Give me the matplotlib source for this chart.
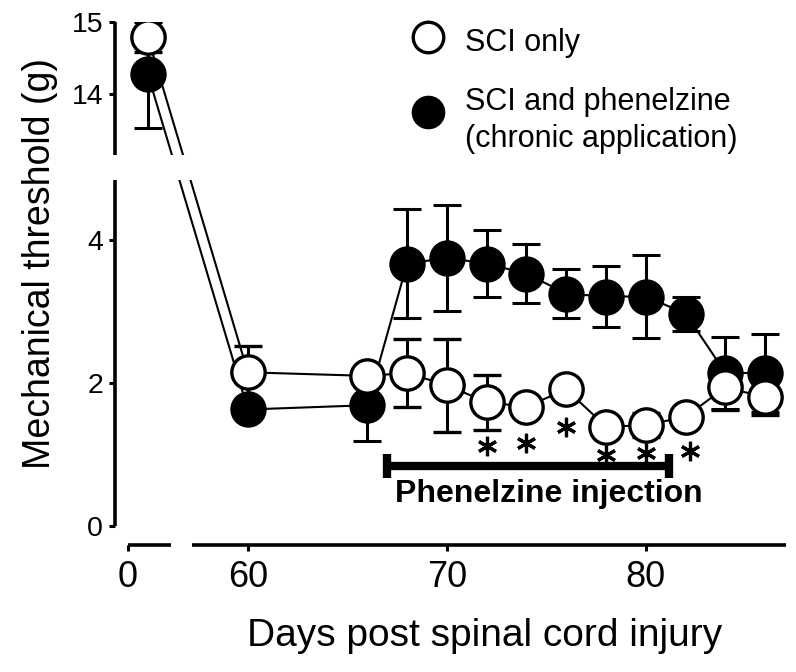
import numpy as np
import matplotlib
matplotlib.use("Agg")
import matplotlib.pyplot as plt

plt.rcParams['font.family'] = ['Liberation Sans', 'DejaVu Sans']

# days post injury
days = [1, 60, 66, 68, 70, 72, 74, 76, 78, 80, 82, 84, 86]

# SCI only (open circles)
sci_mean = [14.79, 2.15, 2.10, 2.14, 1.97, 1.73, 1.67, 1.91, 1.39, 1.41, 1.53, 1.94, 1.80]
sci_err = [0.21, 0.37, 0.10, 0.48, 0.65, 0.38, 0.10, 0.10, 0.10, 0.17, 0.10, 0.32, 0.25]

# SCI and phenelzine (filled circles)
phen_mean = [14.27, 1.63, 1.69, 3.67, 3.75, 3.67, 3.53, 3.25, 3.21, 3.21, 2.97, 2.14, 2.14]
phen_err = [0.75, 0.10, 0.50, 0.76, 0.74, 0.47, 0.41, 0.34, 0.42, 0.58, 0.24, 0.50, 0.55]

# significance marks
star_days = [72, 74, 76, 78, 80, 82.2]
star_y = [1.12, 1.16, 1.38, 0.99, 1.02, 1.05]

# injection period
inj_start, inj_end, inj_y = 67.0, 81.15, 0.84

# axis breaks
XB0, XB1, XGAP = 2.16, 57.19, 1.055
YB0, YB1, YGAP = 4.84, 13.14, 0.349


def fwd_x(d):
    d = np.asarray(d, float)
    return np.where(d <= XB0, d,
                    np.where(d >= XB1, d - XB1 + XB0 + XGAP,
                             XB0 + (d - XB0) * XGAP / (XB1 - XB0)))


def inv_x(u):
    u = np.asarray(u, float)
    return np.where(u <= XB0, u,
                    np.where(u >= XB0 + XGAP, u - XB0 - XGAP + XB1,
                             XB0 + (u - XB0) * (XB1 - XB0) / XGAP))


def fwd_y(v):
    v = np.asarray(v, float)
    return np.where(v <= YB0, v,
                    np.where(v >= YB1, v - YB1 + YB0 + YGAP,
                             YB0 + (v - YB0) * YGAP / (YB1 - YB0)))


def inv_y(w):
    w = np.asarray(w, float)
    return np.where(w <= YB0, w,
                    np.where(w >= YB0 + YGAP, w - YB0 - YGAP + YB1,
                             YB0 + (w - YB0) * (YB1 - YB0) / YGAP))


fig = plt.figure(figsize=(7.96, 6.72), dpi=100)
ax = fig.add_axes([115 / 796, 1 - 545 / 672, 671 / 796, 523 / 672])
ax.set_xscale('function', functions=(fwd_x, inv_x))
ax.set_yscale('function', functions=(fwd_y, inv_y))
ax.set_xlim(-0.65, 87.04)
ax.set_ylim(-0.265, 15)

ax.errorbar(days, phen_mean, yerr=phen_err, fmt='o-', color='k', mfc='k', mec='k',
            ms=24, mew=2.2, lw=1.5, elinewidth=2.2, capsize=10, capthick=2.2, zorder=3)
ax.errorbar(days, sci_mean, yerr=sci_err, fmt='o-', color='k', mfc='white', mec='k',
            ms=24, mew=2.4, lw=1.5, elinewidth=2.2, capsize=10, capthick=2.2, zorder=4)

# white gap where the y axis is broken
ax.axhspan(YB0, YB1, xmin=0.005, xmax=0.3, color='white', zorder=5, lw=0)

ax.plot(star_days, star_y, ls='none', marker=(6, 2, 0), ms=14, mew=2.3, color='k', zorder=6)

ax.plot([inj_start, inj_end], [inj_y, inj_y], color='k', lw=6, solid_capstyle='butt')
ax.plot([inj_start, inj_end], [inj_y, inj_y], ls='none', marker='|', ms=17, mew=6, color='k')
ax.text(75.1, 0.45, 'Phenelzine injection', ha='center', va='center',
        fontsize=23, fontweight='bold')

# broken spines
for sp in ax.spines.values():
    sp.set_visible(False)
xt = ax.get_xaxis_transform()
yt = ax.get_yaxis_transform()
ax.plot([0, XB0], [0, 0], transform=xt, color='k', lw=2.6, clip_on=False, solid_capstyle='butt')
ax.plot([XB1, 87.04], [0, 0], transform=xt, color='k', lw=2.6, clip_on=False, solid_capstyle='butt')
ax.plot([0, 0], [0, YB0], transform=yt, color='k', lw=2.6, clip_on=False, solid_capstyle='butt')
ax.plot([0, 0], [YB1, 15], transform=yt, color='k', lw=2.6, clip_on=False, solid_capstyle='butt')

ax.set_xticks([0, 60, 70, 80])
ax.set_xticklabels(['0', '60', '70', '80'])
ax.set_yticks([0, 2, 4, 14, 15])
ax.set_yticklabels(['0', '2', '4', '14', '15'])
ax.minorticks_off()
ax.tick_params(axis='x', direction='out', length=4.5, width=2.2, labelsize=26, pad=6)
ax.tick_params(axis='y', direction='out', length=4.5, width=2.2, labelsize=20.5, pad=4)

ax.set_xlabel('Days post spinal cord injury', fontsize=28)
ax.xaxis.set_label_coords(0.551, -0.14)
ax.set_ylabel('Mechanical threshold (g)', fontsize=27)
ax.yaxis.set_label_coords(-0.085, 0.539)

# legend
ax.plot([0.466], [0.971], transform=ax.transAxes, marker='o', ms=22, mfc='white',
        mec='k', mew=2.4, clip_on=False)
ax.plot([0.466], [0.828], transform=ax.transAxes, marker='o', ms=22, mfc='k',
        mec='k', mew=2.2, clip_on=False)
ax.text(0.5216, 0.945, 'SCI only', transform=ax.transAxes, fontsize=22, va='baseline')
ax.text(0.5216, 0.832, 'SCI and phenelzine', transform=ax.transAxes, fontsize=22, va='baseline')
ax.text(0.5216, 0.761, '(chronic application)', transform=ax.transAxes, fontsize=22, va='baseline')

fig.savefig('out.png', dpi=100)
